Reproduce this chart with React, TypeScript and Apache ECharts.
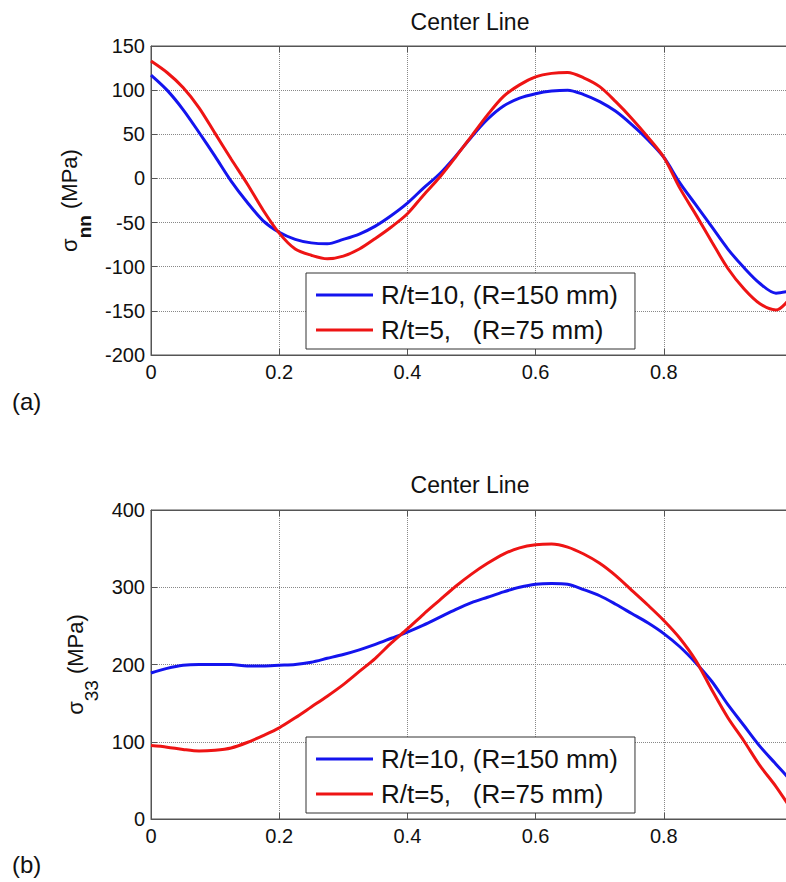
import React, { useEffect, useRef } from "react";
import * as echarts from "echarts";

const FONT = "'Liberation Sans', Arial, Helvetica, sans-serif";

const seriesNames = ["R/t=10, (R=150 mm)", "R/t=5,   (R=75 mm)"];
const xTicksMin = 0;
const xTicksMax = 1;
const xTickStep = 0.2;

// sample positions along the centre line (normalised distance)
const xPos = [
  0, 0.025, 0.05, 0.075, 0.1, 0.125, 0.15, 0.175, 0.2, 0.225, 0.25, 0.275, 0.3, 0.325, 0.35, 0.375, 0.4,
  0.425, 0.45, 0.475, 0.5, 0.525, 0.55, 0.575, 0.6, 0.625, 0.65, 0.675, 0.7, 0.725, 0.75, 0.775, 0.8,
  0.825, 0.85, 0.875, 0.9, 0.925, 0.95, 0.975, 1.0,
];

// Chart (a): σnn
const blueA = [
  117, 100, 78, 52, 25, -3, -27, -48, -61, -69, -73, -74, -69, -63, -54, -42, -28,
  -11, 5, 25, 47, 67, 82, 91, 96, 99, 100, 95, 87, 76, 61, 44, 24,
  -5, -30, -55, -80, -101, -119, -130, -127,
];
const redA = [
  133, 120, 103, 80, 51, 22, -6, -36, -62, -80, -87, -91, -88, -80, -68, -55, -40,
  -19, 1, 24, 48, 72, 93, 106, 115, 119, 120, 114, 104, 87, 68, 47, 24,
  -11, -41, -72, -102, -125, -142, -149, -133,
];
const yA = { min: -200, max: 150, step: 50 };

// Chart (b): σ33
const blueB = [
  189, 195, 199, 200, 200, 200, 198, 198, 199, 200, 203, 208, 213, 219, 226, 234, 242,
  251, 261, 271, 280, 287, 294, 300, 304, 305, 304, 297, 289, 278, 266, 254, 240,
  223, 202, 178, 148, 121, 94, 71, 48,
];
const redB = [
  95, 93, 90, 88, 89, 92, 99, 108, 118, 131, 145, 159, 174, 191, 208, 228, 246,
  265, 283, 301, 317, 331, 343, 351, 355, 356, 352, 343, 331, 315, 296, 277, 257,
  234, 205, 167, 131, 101, 69, 42, 11,
];
const yB = { min: 0, max: 400, step: 100 };

const BLUE = "#1414ee";
const RED = "#ee1414";
const AXIS = "#555";

function pairs(xs: number[], ys: number[]) {
  return xs.map((x, i) => [x, ys[i]]);
}

function buildOption(p: {
  blue: number[];
  red: number[];
  y: { min: number; max: number; step: number };
  sub: string;
  subBold: boolean;
  nameGap: number;
  gridTop: number;
  titleTop: number;
  legendTop: number;
  tag: string;
  tagTop: number;
}) {
  const tick = { show: true, inside: true, length: 6, lineStyle: { color: AXIS } };
  const split = { show: true, lineStyle: { type: "dotted", color: "#888", width: 1 } };
  return {
    animation: false,
    backgroundColor: "#fff",
    title: {
      text: "Center Line",
      left: 470,
      top: p.titleTop,
      padding: 0,
      textAlign: "center",
      textStyle: { fontFamily: FONT, fontSize: 23, fontWeight: "normal", color: "#111" },
    },
    graphic: [
      {
        type: "text",
        left: 12,
        top: p.tagTop,
        style: { text: p.tag, fontFamily: FONT, fontSize: 24, fill: "#111" },
      },
    ],
    grid: {
      left: 151,
      top: p.gridTop,
      width: 641,
      height: 309,
      show: true,
      borderColor: AXIS,
      borderWidth: 1,
      backgroundColor: "#fff",
      outerBoundsMode: "none",
      containLabel: false,
    },
    legend: {
      orient: "vertical",
      left: 306,
      top: p.legendTop,
      icon: "rect",
      itemWidth: 57,
      itemHeight: 3,
      itemGap: 7,
      padding: [8, 17, 5, 10],
      borderColor: "#333",
      borderWidth: 1,
      backgroundColor: "#fff",
      textStyle: { fontFamily: FONT, fontSize: 26, color: "#111", lineHeight: 28, padding: [0, 0, 0, 3] },
      data: seriesNames,
    },
    xAxis: [
      {
        type: "value",
        min: xTicksMin,
        max: xTicksMax,
        interval: xTickStep,
        axisLine: { show: true, onZero: false, lineStyle: { color: AXIS } },
        axisTick: tick,
        axisLabel: { margin: 7, fontFamily: FONT, fontSize: 20, color: "#111" },
        splitLine: split,
      },
      {
        type: "value",
        position: "top",
        min: xTicksMin,
        max: xTicksMax,
        interval: xTickStep,
        axisLine: { show: true, onZero: false, lineStyle: { color: AXIS } },
        axisTick: tick,
        axisLabel: { show: false },
        splitLine: { show: false },
      },
    ],
    yAxis: [
      {
        type: "value",
        min: p.y.min,
        max: p.y.max,
        interval: p.y.step,
        name: "{s|σ}{sub|" + p.sub + "}{s| (MPa)}",
        nameLocation: "middle",
        nameRotate: 90,
        nameGap: p.nameGap,
        nameTextStyle: {
          fontFamily: FONT,
          fontSize: 22,
          color: "#111",
          rich: {
            s: { fontFamily: FONT, fontSize: 22, color: "#111", lineHeight: 22, verticalAlign: "top" },
            sub: {
              fontFamily: FONT,
              fontSize: 19,
              fontWeight: p.subBold ? "bold" : "normal",
              color: "#111",
              lineHeight: 36,
              verticalAlign: "bottom",
              padding: [15, 0, 0, 0],
            },
          },
        },
        axisLine: { show: true, onZero: false, lineStyle: { color: AXIS } },
        axisTick: tick,
        axisLabel: { margin: 6, fontFamily: FONT, fontSize: 20, color: "#111" },
        splitLine: split,
      },
    ],
    series: [
      {
        name: seriesNames[0],
        type: "line",
        data: pairs(xPos, p.blue),
        showSymbol: false,
        smooth: 0.3,
        lineStyle: { color: BLUE, width: 3 },
        itemStyle: { color: BLUE },
        z: 3,
      },
      {
        name: seriesNames[1],
        type: "line",
        data: pairs(xPos, p.red),
        showSymbol: false,
        smooth: 0.3,
        lineStyle: { color: RED, width: 3 },
        itemStyle: { color: RED },
        z: 4,
      },
    ],
  };
}

export default function App() {
  const refA = useRef<HTMLDivElement>(null);
  const refB = useRef<HTMLDivElement>(null);

  useEffect(() => {
    const a = echarts.init(refA.current!, undefined, { renderer: "svg" });
    const b = echarts.init(refB.current!, undefined, { renderer: "svg" });
    a.setOption(
      buildOption({
        blue: blueA,
        red: redA,
        y: yA,
        sub: "nn",
        subBold: true,
        nameGap: 56,
        gridTop: 46,
        titleTop: 10,
        legendTop: 273,
        tag: "(a)",
        tagTop: 389,
      }) as any
    );
    b.setOption(
      buildOption({
        blue: blueB,
        red: redB,
        y: yB,
        sub: "33",
        subBold: false,
        nameGap: 50,
        gridTop: 69,
        titleTop: 32,
        legendTop: 296,
        tag: "(b)",
        tagTop: 411,
      }) as any
    );
    return () => {
      a.dispose();
      b.dispose();
    };
  }, []);

  return (
    <div style={{ position: "absolute", left: 0, top: 0, width: 786, height: 882, background: "#fff", overflow: "hidden" }}>
      <div ref={refA} style={{ width: 786, height: 441 }} />
      <div ref={refB} style={{ width: 786, height: 441 }} />
    </div>
  );
}
